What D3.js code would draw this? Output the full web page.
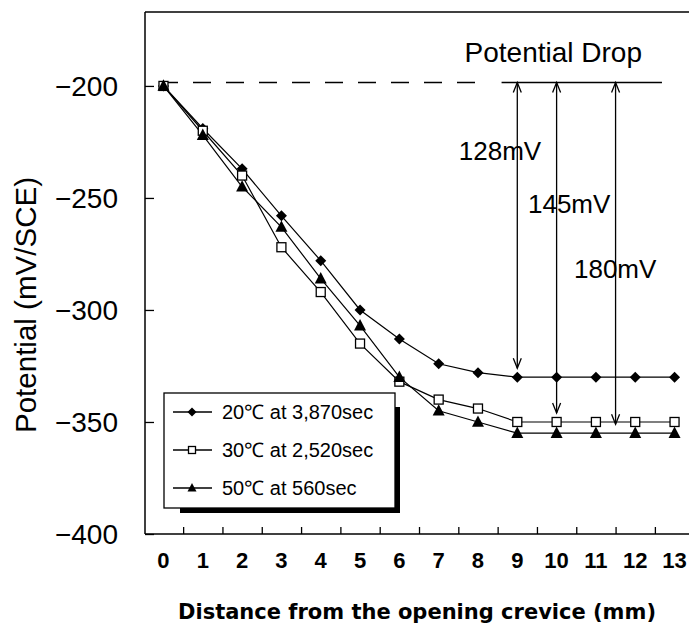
<!DOCTYPE html>
<html>
<head>
<meta charset="utf-8">
<script src="https://cdn.jsdelivr.net/npm/d3@7"></script>
<style>
body { margin: 0; background: #fff; }
svg { display: block; }
text { font-family: "Liberation Sans", Arial, sans-serif; fill: #000; }
</style>
</head>
<body>
<script>
// distance from the opening crevice (mm)
const distances = [0, 1, 2, 3, 4, 5, 6, 7, 8, 9, 10, 11, 12, 13];

// potential (mV/SCE)
const pot20 = [-200, -219, -237, -258, -278, -300, -313, -324, -328, -330, -330, -330, -330, -330];
const pot30 = [-200, -220, -240, -272, -292, -315, -332, -340, -344, -350, -350, -350, -350, -350];
const pot50 = [-200, -222, -245, -263, -286, -307, -330, -345, -350, -355, -355, -355, -355, -355];

const seriesNames = ["20\u2103 at 3,870sec", "30\u2103 at 2,520sec", "50\u2103 at 560sec"];
const seriesMarkers = ["diamond", "square", "triangle"];

const yTicks = [-400, -350, -300, -250, -200];
const xTickLabels = ["0", "1", "2", "3", "4", "5", "6", "7", "8", "9", "10", "11", "12", "13"];

// potential drop annotation
const refLevel = -198.5;
const dropLabels = ["128mV", "145mV", "180mV"];
const dropX = [9, 10, 11.5];
const dropTo = [-326, -346, -351];
const dropLabelX = [8.56, 10.32, 11.49];
const dropLabelY = [-229, -252.6, -281.5];

const width = 689, height = 627;

const svg = d3.select("body").append("svg")
    .attr("width", width)
    .attr("height", height);

const x = d3.scaleLinear().domain([-0.47, 13.5]).range([145, 694.2]);
const y = d3.scaleLinear().domain([-400, -167]).range([534, 12]);

// frame: top line (right side falls outside the picture)
svg.append("line")
    .attr("x1", x(-0.47)).attr("x2", width + 5)
    .attr("y1", y(-167)).attr("y2", y(-167))
    .attr("stroke", "#000").attr("stroke-width", 1.5);

// y axis, ticks pointing inside
const yAxis = svg.append("g")
    .attr("transform", `translate(${x(-0.47)},0)`)
    .call(d3.axisRight(y).tickValues(yTicks).tickSize(9).tickFormat(""));
yAxis.select(".domain").attr("d", `M0,${y(-167)}V${y(-400)}`).attr("stroke-width", 1.5);
yAxis.selectAll(".tick line").attr("stroke-width", 1.3);

svg.append("g").selectAll("text")
    .data(yTicks)
    .join("text")
    .attr("x", 118)
    .attr("y", d => y(d))
    .attr("dy", "0.36em")
    .attr("text-anchor", "end")
    .style("font-size", "28px")
    .text(d => "\u2212" + Math.abs(d));

// x axis, ticks between categories pointing up
const xAxis = svg.append("g")
    .attr("transform", `translate(0,${y(-400)})`)
    .call(d3.axisTop(x).tickValues(distances.map(d => d + 0.5)).tickSize(7).tickFormat(""));
xAxis.select(".domain").attr("d", `M${x(-0.47)},0H${width + 5}`).attr("stroke-width", 1.5);
xAxis.selectAll(".tick line").attr("stroke-width", 1.3);

svg.append("g").selectAll("text")
    .data(distances)
    .join("text")
    .attr("x", d => x(d))
    .attr("y", 568)
    .attr("text-anchor", "middle")
    .style("font-size", "22px")
    .style("font-weight", "bold")
    .text((d, i) => xTickLabels[i]);

// axis titles
svg.append("text")
    .attr("x", 417)
    .attr("y", 619)
    .attr("text-anchor", "middle")
    .style("font-family", "'DejaVu Sans', sans-serif")
    .style("font-size", "21px")
    .style("font-weight", "bold")
    .text("Distance from the opening crevice (mm)");

svg.append("text")
    .attr("transform", "translate(36,305) rotate(-90)")
    .attr("text-anchor", "middle")
    .attr("textLength", 256)
    .attr("lengthAdjust", "spacingAndGlyphs")
    .style("font-size", "29px")
    .text("Potential (mV/SCE)");

// reference level: dashed, then solid over the drop arrows
svg.append("line")
    .attr("x1", x(-0.47)).attr("x2", x(8.2))
    .attr("y1", y(refLevel)).attr("y2", y(refLevel))
    .attr("stroke", "#000").attr("stroke-width", 1.5)
    .attr("stroke-dasharray", "18,15")
    .attr("stroke-dashoffset", -15);
svg.append("line")
    .attr("x1", x(8.6)).attr("x2", x(12.68))
    .attr("y1", y(refLevel)).attr("y2", y(refLevel))
    .attr("stroke", "#000").attr("stroke-width", 1.5);

svg.append("text")
    .attr("x", 642)
    .attr("y", 62)
    .attr("text-anchor", "end")
    .style("font-size", "28px")
    .text("Potential Drop");

// drop arrows
const arrows = svg.append("g").attr("stroke", "#000").attr("fill", "none").attr("stroke-width", 1.3);
dropX.forEach((dx, i) => {
    const ax = x(dx), yTop = y(refLevel), yBot = y(dropTo[i]);
    arrows.append("line").attr("x1", ax).attr("x2", ax).attr("y1", yTop).attr("y2", yBot);
    arrows.append("path").attr("d", `M${ax - 4},${yTop + 10}L${ax},${yTop}L${ax + 4},${yTop + 10}`);
    arrows.append("path").attr("d", `M${ax - 4},${yBot - 10}L${ax},${yBot}L${ax + 4},${yBot - 10}`);
});

svg.append("g").selectAll("text")
    .data(dropLabels)
    .join("text")
    .attr("x", (d, i) => x(dropLabelX[i]))
    .attr("y", (d, i) => y(dropLabelY[i]))
    .attr("dy", "0.36em")
    .attr("text-anchor", "middle")
    .style("font-size", "26px")
    .text(d => d);

// series
const line = d3.line().x((d, i) => x(distances[i])).y(d => y(d));
const allSeries = [pot20, pot30, pot50];
const markerSize = [11, 9, 12];

function drawMarker(g, type, size) {
    if (type === "diamond") {
        g.append("path")
            .attr("d", `M0,${-size / 2}L${size / 2},0L0,${size / 2}L${-size / 2},0Z`)
            .attr("fill", "#000");
    } else if (type === "square") {
        g.append("rect")
            .attr("x", -size / 2).attr("y", -size / 2)
            .attr("width", size).attr("height", size)
            .attr("fill", "#fff").attr("stroke", "#000").attr("stroke-width", 1.3);
    } else {
        g.append("path")
            .attr("d", `M0,${-size * 0.55}L${size / 2},${size * 0.4}L${-size / 2},${size * 0.4}Z`)
            .attr("fill", "#000");
    }
}

allSeries.forEach(s => {
    svg.append("path")
        .datum(s)
        .attr("d", line)
        .attr("fill", "none")
        .attr("stroke", "#000")
        .attr("stroke-width", 1.2);
});
allSeries.forEach((s, k) => {
    s.forEach((v, i) => {
        const g = svg.append("g").attr("transform", `translate(${x(distances[i])},${y(v)})`);
        drawMarker(g, seriesMarkers[k], markerSize[k]);
    });
});

// legend with black drop shadow
const legend = svg.append("g");
legend.append("rect")
    .attr("x", 180).attr("y", 407).attr("width", 220).attr("height", 106)
    .attr("fill", "#000");
legend.append("rect")
    .attr("x", 164).attr("y", 393).attr("width", 231).attr("height", 115)
    .attr("fill", "#fff").attr("stroke", "#000").attr("stroke-width", 1.3);

seriesNames.forEach((name, k) => {
    const cy = 412 + k * 38;
    legend.append("line")
        .attr("x1", 173).attr("x2", 212).attr("y1", cy).attr("y2", cy)
        .attr("stroke", "#000").attr("stroke-width", 1.3);
    const g = legend.append("g").attr("transform", `translate(192,${cy})`);
    drawMarker(g, seriesMarkers[k], k === 1 ? 7 : 9);
    legend.append("text")
        .attr("x", 222)
        .attr("y", cy)
        .attr("dy", "0.36em")
        .style("font-size", "20px")
        .text(name);
});
</script>
</body>
</html>
